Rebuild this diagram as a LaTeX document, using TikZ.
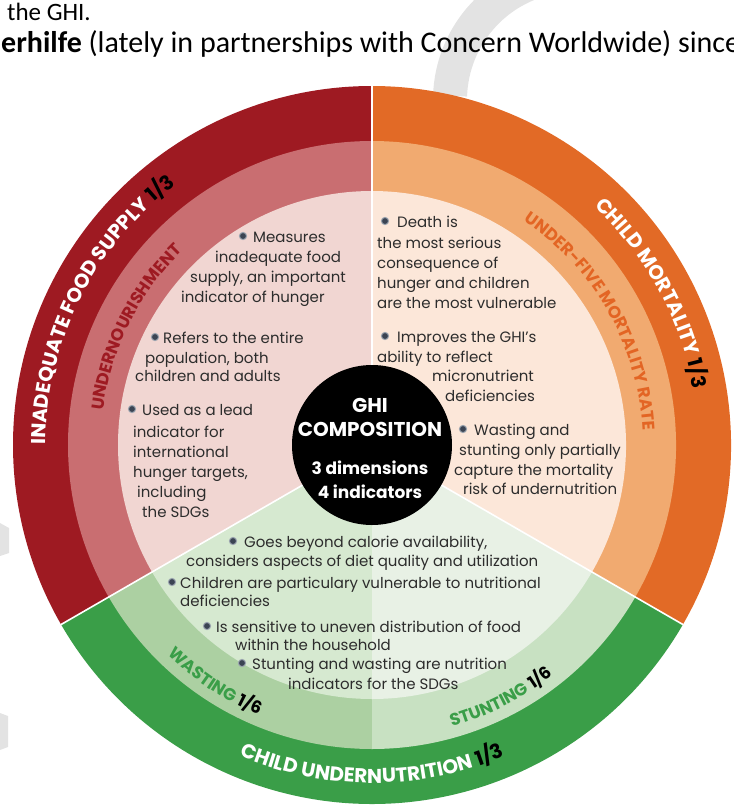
\documentclass[tikz,border=0pt]{standalone}
\usepackage{fontspec}
\setmainfont{Poppins}
\newfontfamily\ringfont{Poppins}
\newfontfamily\pagefont{Carlito}
\usetikzlibrary{decorations.text}

\definecolor{supplyO}{HTML}{9E1A22}
\definecolor{supplyM}{HTML}{C96E71}
\definecolor{supplyI}{HTML}{F1D6D2}
\definecolor{mortO}{HTML}{E26A26}
\definecolor{mortM}{HTML}{F1AA70}
\definecolor{mortI}{HTML}{FCE7D9}
\definecolor{nutrO}{HTML}{3A9E48}
\definecolor{wasteM}{HTML}{ACD0A2}
\definecolor{wasteI}{HTML}{D6E9D0}
\definecolor{stuntM}{HTML}{C8E1C2}
\definecolor{stuntI}{HTML}{E8F1E5}
\definecolor{inktext}{HTML}{2C2C2C}
\definecolor{dotfill}{HTML}{3B4453}
\definecolor{dotring}{HTML}{9AA3AE}
\definecolor{markgray}{HTML}{E3E3E3}

\newcommand\outerfont{\ringfont\bfseries\fontsize{20}{20}\selectfont}
\newcommand\midfont{\ringfont\bfseries\fontsize{17}{17}\selectfont}

\begin{document}
\begin{tikzpicture}[x=1pt,y=1pt,
    txt/.style={font=\fontsize{15}{17}\selectfont, text=inktext, inner sep=0pt, anchor=base west},
    dot/.style={fill=dotfill, draw=dotring, line width=1pt},
    core/.style={font=\ringfont\bfseries\fontsize{20}{20}\selectfont, text=white, inner sep=0pt}]
    \useasboundingbox (0,0) rectangle (734,-807);

    % Watermark behind the wheel
    \draw[markgray, line width=34pt] (575,-100) ++(100:125) arc[start angle=100, end angle=178, radius=125];
    \fill[markgray] (0,-523) -- (9,-528) -- (9,-553) -- (0,-556) -- cycle;
    \fill[markgray] (0,-713) -- (8,-716) -- (8,-747) -- (0,-750) -- cycle;

    % Page text
    \node[anchor=base west, inner sep=0pt, font=\pagefont\fontsize{25}{25}\selectfont] (pgone) at (7,-20) {the GHI.};
    \node[anchor=base west, inner sep=0pt, font=\pagefont\fontsize{30}{30}\selectfont] (pgtwo) at (1,-52) {\textbf{erhilfe} (lately in partnerships with Concern Worldwide) since};

    \begin{scope}[shift={(372,-445)}]
    % Rings
    \foreach \a/\b/\outer/\mid/\inner in {90/210/supplyO/supplyM/supplyI, -30/90/mortO/mortM/mortI, 210/270/nutrO/wasteM/wasteI, 270/330/nutrO/stuntM/stuntI} {
        \fill[\outer] (0,0) -- (\a:359) arc[start angle=\a, end angle=\b, radius=359] -- cycle;
        \fill[\mid] (0,0) -- (\a:304) arc[start angle=\a, end angle=\b, radius=304] -- cycle;
        \fill[\inner] (0,0) -- (\a:254) arc[start angle=\a, end angle=\b, radius=254] -- cycle;
    }
    \foreach \a in {90,210,330}
        \draw[white, line width=1.6pt] (\a:80) -- (\a:359);

    % Dimension labels
    \path[decorate, decoration={text along path, text align=center,
        text={|\outerfont\color{white}|INADEQUATE FOOD SUPPLY |\outerfont\color{black}|1/3}}]
        (213.5:326) arc[start angle=213.5, end angle=93.5, radius=326];
    \path[decorate, decoration={text along path, text align=center,
        text={|\outerfont\color{white}|CHILD MORTALITY |\outerfont\color{black}|1/3}}]
        (88.5:326) arc[start angle=88.5, end angle=-31.5, radius=326];
    \path[decorate, decoration={text along path, text align=center,
        text={|\outerfont\color{white}|CHILD UNDERNUTRITION |\outerfont\color{black}|1/3}}]
        (210:338) arc[start angle=210, end angle=330, radius=338];

    % Indicator labels
    \path[decorate, decoration={text along path, text align=center,
        text={|\midfont\color{supplyO}|UNDERNOURISHMENT}}]
        (213.5:271) arc[start angle=213.5, end angle=93.5, radius=271];
    \path[decorate, decoration={text along path, text align=center,
        text={|\midfont\color{mortO!95!red}|UNDER-FIVE MORTALITY RATE}}]
        (89.5:271) arc[start angle=89.5, end angle=-30.5, radius=271];
    \path[decorate, decoration={text along path, text align=center,
        text={|\midfont\color{nutrO}|WASTING |\midfont\color{black}|1/6}}]
        (196.5:293) arc[start angle=196.5, end angle=276.5, radius=293];
    \path[decorate, decoration={text along path, text align=center,
        text={|\midfont\color{nutrO}|STUNTING |\midfont\color{black}|1/6}}]
        (257:293) arc[start angle=257, end angle=337, radius=293];

    % Centre
    \fill[black] (0,0) circle (80);
    \node[core] (ghi) at (-2,40) {GHI};
    \node[core] (comp) at (-2,16) {COMPOSITION};
    \node[core, font=\ringfont\bfseries\fontsize{17}{17}\selectfont] (dims) at (-2,-23) {3 dimensions};
    \node[core, font=\ringfont\bfseries\fontsize{17}{17}\selectfont] (inds) at (-2,-47) {4 indicators};
    \end{scope}

    % Undernourishment notes
    \foreach \x/\y/\t [count=\i] in {253/242/Measures, 215/262/inadequate food, 190/282/{supply, an important}, 181/302/indicator of hunger,
        163/343/Refers to the entire, 145/363/{population, both}, 135/381/children and adults,
        142/415/Used as a lead, 133/437/indicator for, 133/457/international, 133/477/{hunger targets,}, 137/497/including, 142/517/the SDGs}
        \node[txt] (sup\i) at (\x,-\y) {\t};

    % Under-five mortality notes
    \foreach \x/\y/\t [count=\i] in {397/227/Death is, 377/248/the most serious, 377/268/consequence of, 377/288/hunger and children, 377/308/are the most vulnerable,
        397/342/Improves the GHI's, 377/362/ability to reflect, 432/381/micronutrient, 445/401/deficiencies,
        474/435/Wasting and, 459/455/stunting only partially, 454/475/capture the mortality, 463/494/risk of undernutrition}
        \node[txt] (mor\i) at (\x,-\y) {\t};

    % Wasting and stunting notes
    \foreach \x/\y/\t [count=\i] in {244/547/{Goes beyond calorie availability,}, 186/566/considers aspects of diet quality and utilization,
        180/588/Children are particulary vulnerable to nutritional, 180/606/deficiencies,
        216/632/Is sensitive to uneven distribution of food, 235/650/within the household,
        252/669/Stunting and wasting are nutrition, 288/689/indicators for the SDGs}
        \node[txt] (nut\i) at (\x,-\y) {\t};

    % Bullets
    \foreach \x/\y in {243/236, 155/337, 132/409, 385/221, 385/336, 463/429, 233/541, 172/582, 207/626, 242/663}
        \filldraw[dot] (\x,-\y) circle (3.6);
\end{tikzpicture}
\end{document}
